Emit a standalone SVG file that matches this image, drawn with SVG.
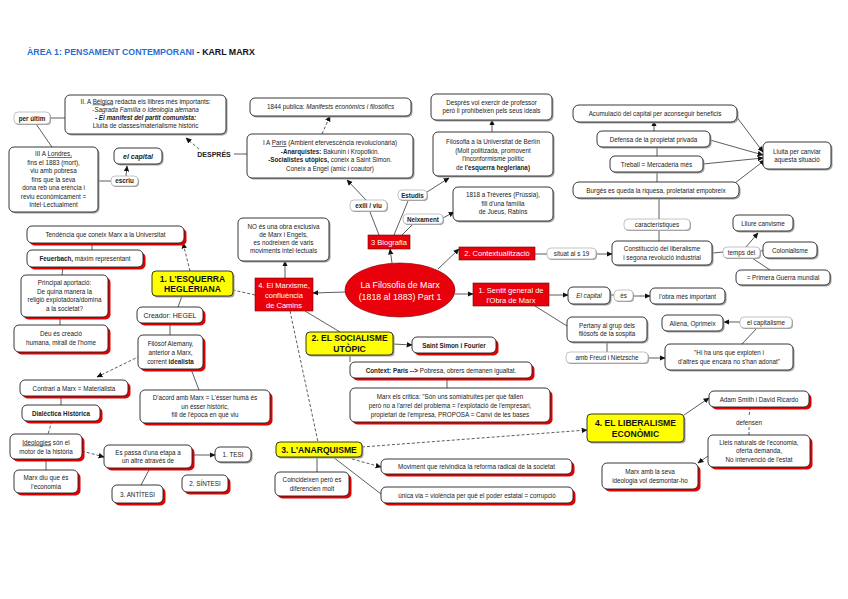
<svg xmlns="http://www.w3.org/2000/svg" width="848" height="599" viewBox="0 0 848 599">
<defs>
<marker id="a" viewBox="0 0 10 10" refX="9" refY="5" markerWidth="6" markerHeight="6" markerUnits="userSpaceOnUse" orient="auto"><path d="M0,0.5 L10,5 L0,9.5 z" fill="#111"/></marker>
</defs>
<style>
text{font-family:"Liberation Sans",Arial,sans-serif;font-size:6.3px;fill:#222;text-anchor:middle}
.b{fill:#fff;stroke:#222;stroke-width:0.9}
.p{fill:#fff;stroke:#aaa;stroke-width:0.7}
.sg{fill:#a0a0a0}
.sr{fill:#e30000}
.y{fill:#ffff00;stroke:#222;stroke-width:0.9}
.r{fill:#e8000b;stroke:#700;stroke-width:0.6}
.w{fill:#fff;font-size:7.5px}
.yt{font-size:8.6px;font-weight:bold;fill:#111}
.bo{font-weight:bold}
.it{font-style:italic}
.u{text-decoration:underline}
.c{stroke:#333;stroke-width:0.8;fill:none}
.d{stroke-dasharray:3 2}
.ar{marker-end:url(#a)}
</style>
<rect width="848" height="599" fill="#fff"/>
<g id="title">
<text x="27" y="55" style="font-size:8.8px;font-weight:bold;text-anchor:start"><tspan style="fill:#1f6fd6">ÀREA 1: PENSAMENT CONTEMPORANI</tspan><tspan style="fill:#111"> - KARL MARX</tspan></text>
</g>

<g id="connectors">
<path class="c" d="M50,118 L65,118"/>
<path class="c" d="M36,124 L52,147"/>
<path class="c" d="M98,181 L111,181"/>
<path class="c ar" d="M126,176 L127,166"/>
<path class="c d ar" d="M199,149 L186,138"/>
<path class="c" d="M234,154 L247,154"/>
<path class="c d ar" d="M322,134 L330,116"/>
<path class="c ar" d="M366,200 L347,180"/>
<path class="c" d="M379,235 L370,212"/>
<path class="c" d="M394,235 L408,201"/>
<path class="c" d="M402,235 L412,225"/>
<path class="c ar" d="M427,192 L449,178"/>
<path class="c ar" d="M443,218 L454,212"/>
<path class="c ar" d="M492,132 L492,120"/>
<path class="c ar" d="M392,263 L390,249"/>
<path class="c ar" d="M438,269 L459,249"/>
<path class="c ar" d="M455,294 L473,294"/>
<path class="c ar" d="M346,292 L313,293"/>
<path class="c" d="M535,254 L547,254"/>
<path class="c ar" d="M596,254 L612,254"/>
<path class="c" d="M659,241 L659,230"/>
<path class="c" d="M659,219 L659,199"/>
<path class="c" d="M657,182 L657,172"/>
<path class="c" d="M657,156 L657,148"/>
<path class="c ar" d="M654,131 L654,121"/>
<path class="c ar" d="M736,116 L763,152"/>
<path class="c ar" d="M710,140 L763,155"/>
<path class="c ar" d="M703,164 L763,158"/>
<path class="c ar" d="M735,183 L765,160"/>
<path class="c" d="M713,253 L723,252"/>
<path class="c ar" d="M746,247 L758,233"/>
<path class="c" d="M760,252 L763,250"/>
<path class="c" d="M752,258 L770,270"/>
<path class="c ar" d="M549,295 L568,295"/>
<path class="c" d="M610,295 L614,295"/>
<path class="c ar" d="M633,296 L650,296"/>
<path class="c" d="M535,306 L567,326"/>
<path class="c" d="M607,343 L607,352"/>
<path class="c ar" d="M648,358 L665,358"/>
<path class="c ar" d="M740,322 L724,322"/>
<path class="c" d="M757,328 L742,344"/>
<path class="c ar" d="M285,278 L285,261"/>
<path class="c d" d="M255,295 L233,290"/>
<path class="c d ar" d="M190,271 L183,243"/>
<path class="c" d="M182,296 L178,307"/>
<path class="c" d="M170,323 L170,335"/>
<path class="c" d="M92,243 L92,250"/>
<path class="c" d="M63,267 L62,275"/>
<path class="c" d="M60,317 L60,325"/>
<path class="c d ar" d="M140,356 L97,377"/>
<path class="c" d="M191,369 L199,390"/>
<path class="c" d="M61,396 L61,405"/>
<path class="c d" d="M52,421 L48,434"/>
<path class="c" d="M46,459 L46,470"/>
<path class="c d ar" d="M82,451 L104,457"/>
<path class="c ar" d="M192,455 L215,455"/>
<path class="c" d="M150,468 L141,485"/>
<path class="c" d="M305,311 L340,332"/>
<path class="c d" d="M290,311 L318,442"/>
<path class="c ar" d="M393,344 L412,345"/>
<path class="c" d="M350,355 L350,362"/>
<path class="c" d="M447,378 L447,388"/>
<path class="c d ar" d="M362,447 L587,430"/>
<path class="c d ar" d="M352,459 L381,467"/>
<path class="c" d="M333,457 L381,494"/>
<path class="c" d="M317,457 L317,472"/>
<path class="c ar" d="M684,415 L709,398"/>
<path class="c d" d="M750,407 L749,417"/>
<path class="c d" d="M749,427 L749,435"/>
<path class="c ar" d="M708,456 L698,463"/>
</g>

<g id="n-belgica"><rect class="sg" x="66.5" y="96.5" width="161" height="39" rx="5"/><rect class="b" x="65" y="95" width="161" height="39" rx="5"/>
<text x="145.5" y="103.5">II. A <tspan class="u">Bèlgica</tspan> redacta els llibres més importants:</text>
<text x="145.5" y="111.5" class="it">-Sagrada Família o Ideologia alemana</text>
<text x="145.5" y="119.5" class="it bo">- El manifest del partit comunista:</text>
<text x="145.5" y="127.5">Lluita de classes/materialisme històric</text></g>
<g id="n-perultim"><rect class="sg" x="15" y="113" width="36" height="12" rx="4"/><rect class="p" x="14" y="112" width="36" height="12" rx="4"/><text x="32" y="120.5" class="bo">per últim</text></g>
<g id="n-londres"><rect class="sg" x="10.5" y="148.5" width="89" height="65" rx="5"/><rect class="b" x="9" y="147" width="89" height="65" rx="5"/>
<text x="53.5" y="156"><tspan>III A </tspan><tspan class="u">Londres,</tspan></text>
<text x="53.5" y="164.5">fins el 1883 (mort),</text>
<text x="53.5" y="173">viu amb pobresa</text>
<text x="53.5" y="181.5">fins que la seva</text>
<text x="53.5" y="190">dona reb una erència i</text>
<text x="53.5" y="198.5">reviu econòmicament =</text>
<text x="53.5" y="207">Intel·Lectualment</text></g>
<g id="n-elcapital1"><rect class="sg" x="115.5" y="149.5" width="48" height="16" rx="5"/><rect class="b" x="114" y="148" width="48" height="16" rx="5"/><text x="138" y="158.5" class="bo it" style="font-size:7px">el capital</text></g>
<g id="n-escriu"><rect class="sg" x="112" y="177" width="27" height="10" rx="4"/><rect class="p" x="111" y="176" width="27" height="10" rx="4"/><text x="124.5" y="183.3" class="bo">escriu</text></g>
<g id="n-despres"><text x="214" y="156.5" class="bo" style="font-size:7px">DESPRÉS</text></g>
<g id="n-1844"><rect class="sg" x="251.5" y="99.5" width="161" height="18" rx="5"/><rect class="b" x="250" y="98" width="161" height="18" rx="5"/><text x="330.5" y="109.3">1844 publica: <tspan class="it">Manifests econòmics i filosòfics</tspan></text></g>
<g id="n-paris"><rect class="sg" x="248.5" y="135.5" width="166" height="44" rx="5"/><rect class="b" x="247" y="134" width="166" height="44" rx="5"/>
<text x="330" y="145">I A <tspan class="u">París</tspan> (Ambient efervescència revolucionària)</text>
<text x="330" y="153.5"><tspan class="bo">-Anarquistes:</tspan> Bakunin i Kropotkin.</text>
<text x="330" y="162"><tspan class="bo">-Socialistes utòpics,</tspan> coneix a Saint Simon.</text>
<text x="330" y="170.5">Coneix a Engel (amic i coautor)</text></g>
<g id="n-exili"><rect class="sg" x="351" y="201" width="37" height="11" rx="4"/><rect class="p" x="350" y="200" width="37" height="11" rx="4"/><text x="368.5" y="208" class="bo">exili / viu</text></g>
<g id="n-estudis"><rect class="sg" x="399" y="191" width="29" height="10" rx="4"/><rect class="p" x="398" y="190" width="29" height="10" rx="4"/><text x="412.5" y="197.5" class="bo">Estudis</text></g>
<g id="n-neixament"><rect class="sg" x="404" y="215" width="40" height="10" rx="4"/><rect class="p" x="403" y="214" width="40" height="10" rx="4"/><text x="423" y="221.5" class="bo">Neixament</text></g>
<g id="n-professor"><rect class="sg" x="432.5" y="95.5" width="121" height="26" rx="5"/><rect class="b" x="431" y="94" width="121" height="26" rx="5"/>
<text x="491.5" y="104.5">Després vol exercir de professor</text><text x="491.5" y="113">però li prohibeixen pels seus ideals</text></g>
<g id="n-berlin"><rect class="sg" x="434.5" y="133.5" width="120" height="44" rx="5"/><rect class="b" x="433" y="132" width="120" height="44" rx="5"/>
<text x="493" y="144">Filosofia a la Universitat de Berlín</text>
<text x="493" y="152.5">(Molt politizada, promovent</text>
<text x="493" y="161">l'inconformisme polític</text>
<text x="493" y="169.5">de <tspan class="bo">l'esquerra hegleriana)</tspan></text></g>
<g id="n-1818"><rect class="sg" x="454.5" y="188.5" width="100" height="34" rx="5"/><rect class="b" x="453" y="187" width="100" height="34" rx="5"/>
<text x="503" y="197">1818 a Trèveres (Prússia),</text><text x="503" y="205.5">fill d'una família</text><text x="503" y="214">de Jueus, Rabins</text></g>

<g id="n-acumulacio"><rect class="sg" x="574.5" y="106.5" width="164" height="17" rx="6"/><rect class="b" x="573" y="105" width="164" height="17" rx="6"/><text x="655" y="116">Acumulació del capital per aconseguir beneficis</text></g>
<g id="n-defensa"><rect class="sg" x="598.5" y="132.5" width="113" height="16" rx="5"/><rect class="b" x="597" y="131" width="113" height="16" rx="5"/><text x="653.5" y="141.5">Defensa de la propietat privada</text></g>
<g id="n-treball"><rect class="sg" x="611.5" y="157.5" width="93" height="16" rx="5"/><rect class="b" x="610" y="156" width="93" height="16" rx="5"/><text x="656.5" y="166.5">Treball = Mercaderia més</text></g>
<g id="n-burges"><rect class="sg" x="574.5" y="183.5" width="166" height="16" rx="6"/><rect class="b" x="573" y="182" width="166" height="16" rx="6"/><text x="656" y="192.5">Burgès es queda la riquesa, proletariat empobreix</text></g>
<g id="n-lluita"><rect class="sg" x="764.5" y="143.5" width="68" height="27" rx="5"/><rect class="b" x="763" y="142" width="68" height="27" rx="5"/><text x="797" y="153.5">Lluita per canviar</text><text x="797" y="162">aquesta situació</text></g>
<g id="n-caracteristiques"><rect class="sg" x="625" y="220" width="66" height="11" rx="4"/><rect class="p" x="624" y="219" width="66" height="11" rx="4"/><text x="657" y="227">característiques</text></g>
<g id="n-constitucio"><rect class="sg" x="613.5" y="242.5" width="100" height="24" rx="5"/><rect class="b" x="612" y="241" width="100" height="24" rx="5"/><text x="662" y="251">Constitucció del liberalisme</text><text x="662" y="259.5">i segona revolució industrial</text></g>
<g id="n-tempsdel"><rect class="sg" x="724" y="248" width="37" height="11" rx="4"/><rect class="p" x="723" y="247" width="37" height="11" rx="4"/><text x="741.5" y="254.7">temps del</text></g>
<g id="n-lliure"><rect class="sg" x="734.5" y="216.5" width="60" height="16" rx="5"/><rect class="b" x="733" y="215" width="60" height="16" rx="5"/><text x="763" y="225.5">Lliure canvisme</text></g>
<g id="n-colonialisme"><rect class="sg" x="764.5" y="243.5" width="54" height="16" rx="5"/><rect class="b" x="763" y="242" width="54" height="16" rx="5"/><text x="790" y="252.5">Colonialisme</text></g>
<g id="n-guerra"><rect class="sg" x="737.5" y="271.5" width="94" height="15" rx="5"/><rect class="b" x="736" y="270" width="94" height="15" rx="5"/><text x="783" y="280">= Primera Guerra mundial</text></g>
<g id="n-situat"><rect class="sg" x="548" y="249" width="49" height="11" rx="4"/><rect class="p" x="547" y="248" width="49" height="11" rx="4"/><text x="571.5" y="255.8">situat al s 19</text></g>
<g id="n-elcapital2"><rect class="sg" x="569.5" y="288.5" width="42" height="17" rx="5"/><rect class="b" x="568" y="287" width="42" height="17" rx="5"/><text x="589" y="297.5" class="it">El capital</text></g>
<g id="n-es"><rect class="sg" x="615" y="291" width="19" height="11" rx="4"/><rect class="p" x="614" y="290" width="19" height="11" rx="4"/><text x="623.5" y="298">és</text></g>
<g id="n-obra"><rect class="sg" x="651.5" y="289.5" width="75" height="16" rx="5"/><rect class="b" x="650" y="288" width="75" height="16" rx="5"/><text x="687.5" y="298.5">l'obra més important</text></g>
<g id="n-pertany"><rect class="sg" x="568.5" y="318.5" width="80" height="25" rx="5"/><rect class="b" x="567" y="317" width="80" height="25" rx="5"/><text x="607" y="327.5">Pertany al grup dels</text><text x="607" y="336">filòsofs de la sospita</text></g>
<g id="n-freud"><rect class="sg" x="567" y="353" width="82" height="11" rx="4"/><rect class="p" x="566" y="352" width="82" height="11" rx="4"/><text x="607" y="360">amb Freud i Nietzsche</text></g>
<g id="n-aliena"><rect class="sg" x="663.5" y="316.5" width="61" height="16" rx="5"/><rect class="b" x="662" y="315" width="61" height="16" rx="5"/><text x="692.5" y="325.5">Aliena, Oprimeix</text></g>
<g id="n-capitalisme"><rect class="sg" x="741" y="318" width="52" height="11" rx="4"/><rect class="p" x="740" y="317" width="52" height="11" rx="4"/><text x="766" y="325">el capitalisme</text></g>
<g id="n-hihauns"><rect class="sg" x="666.5" y="345.5" width="128" height="26" rx="5"/><rect class="b" x="665" y="344" width="128" height="26" rx="5"/><text x="729" y="355">"Hi ha uns que exploten i</text><text x="729" y="364">d'altres que encara no s'han adonat"</text></g>

<g id="n-centre"><ellipse cx="400" cy="290" rx="55" ry="27" fill="#e8000b" stroke="#700" stroke-width="0.6"/><text x="400" y="288" class="w" style="font-size:8.8px">La Filosofia de Marx</text><text x="400" y="300" class="w" style="font-size:8.8px">(1818 al 1883) Part 1</text></g>
<g id="n-biografia"><rect class="r" x="368" y="235" width="42" height="14"/><text x="389" y="244.5" class="w">3 Biografia</text></g>
<g id="n-context"><rect class="r" x="459" y="247" width="76" height="13"/><text x="497" y="256.3" class="w">2. Contextualització</text></g>
<g id="n-sentit"><rect class="r" x="473" y="283" width="76" height="23"/><text x="511" y="292.5" class="w">1. Sentit general de</text><text x="511" y="302.5" class="w">l'Obra de Marx</text></g>
<g id="n-marxisme"><rect class="r" x="255" y="278" width="58" height="33"/><text x="284" y="288" class="w">4. El Marxisme,</text><text x="284" y="298" class="w">confluència</text><text x="284" y="308" class="w">de Camins</text></g>
<g id="n-noes"><rect class="sg" x="239.5" y="219.5" width="91" height="43" rx="5"/><rect class="b" x="238" y="218" width="91" height="43" rx="5"/>
<text x="283.5" y="228.5">NO és una obra exclusiva</text><text x="283.5" y="236.5">de Marx i Engels,</text><text x="283.5" y="244.5">es nodreixen de varis</text><text x="283.5" y="252.5">moviments intel·lectuals</text></g>

<g id="n-esquerra"><rect class="sg" x="153.5" y="272.5" width="81" height="25" rx="4"/><rect class="y" x="152" y="271" width="81" height="25" rx="4"/><text x="192.5" y="281.5" class="yt">1. L'ESQUERRA</text><text x="192.5" y="292" class="yt">HEGLERIANA</text></g>
<g id="n-socialisme"><rect class="sg" x="307.5" y="333.5" width="87" height="23" rx="4"/><rect class="y" x="306" y="332" width="87" height="23" rx="4"/><text x="349.5" y="341" class="yt">2. EL SOCIALISME</text><text x="349.5" y="351.5" class="yt">UTÒPIC</text></g>
<g id="n-anarquisme"><rect class="sg" x="277.5" y="443.5" width="86" height="15" rx="4"/><rect class="y" x="276" y="442" width="86" height="15" rx="4"/><text x="319" y="452.8" class="yt">3. L'ANARQUISME</text></g>
<g id="n-liberalisme"><rect class="sg" x="588.5" y="415.5" width="97" height="28" rx="4"/><rect class="y" x="587" y="414" width="97" height="28" rx="4"/><text x="635.5" y="426" class="yt">4. EL LIBERALISME</text><text x="635.5" y="436.5" class="yt">ECONÒMIC</text></g>

<g id="n-tendencia"><rect class="sr" x="29.5" y="228.5" width="157" height="17" rx="5"/><rect class="b" x="27" y="226" width="157" height="17" rx="5"/><text x="105.5" y="236.8">Tendència que coneix Marx a la Universitat</text></g>
<g id="n-feuerbach"><rect class="sr" x="29.5" y="252.5" width="116" height="17" rx="5"/><rect class="b" x="27" y="250" width="116" height="17" rx="5"/><text x="85" y="260.8"><tspan class="bo">Feuerbach,</tspan> màxim representant</text></g>
<g id="n-principal"><rect class="sr" x="23.5" y="277.5" width="87" height="42" rx="5"/><rect class="b" x="21" y="275" width="87" height="42" rx="5"/>
<text x="64.5" y="285">Principal aportació:</text><text x="64.5" y="293.5">De quina manera la</text><text x="64.5" y="302">religió explotadora/domina</text><text x="64.5" y="310.5">a la societat?</text></g>
<g id="n-deu"><rect class="sr" x="16.5" y="327.5" width="94" height="27" rx="5"/><rect class="b" x="14" y="325" width="94" height="27" rx="5"/><text x="61" y="336">Déu és creació</text><text x="61" y="345">humana, mirall de l'home</text></g>
<g id="n-hegel"><rect class="sr" x="139.5" y="309.5" width="66" height="16" rx="5"/><rect class="b" x="137" y="307" width="66" height="16" rx="5"/><text x="170" y="317.8" style="font-size:7px">Creador: HEGEL</text></g>
<g id="n-filosof"><rect class="sr" x="140.5" y="337.5" width="65" height="34" rx="5"/><rect class="b" x="138" y="335" width="65" height="34" rx="5"/><text x="170.5" y="345.5">Filòsof Alemany,</text><text x="170.5" y="354.5">anterior a Marx,</text><text x="170.5" y="363.5">corrent <tspan class="bo">idealista</tspan></text></g>
<g id="n-dacord"><rect class="sr" x="142.5" y="392.5" width="130" height="33" rx="5"/><rect class="b" x="140" y="390" width="130" height="33" rx="5"/><text x="205" y="400">D'acord amb Marx = L'ésser humà és</text><text x="205" y="408.5">un ésser històric,</text><text x="205" y="417">fill de l'època en què viu</text></g>
<g id="n-contrari"><rect class="sr" x="22.5" y="382.5" width="108" height="16" rx="5"/><rect class="b" x="20" y="380" width="108" height="16" rx="5"/><text x="74" y="390.5">Contrari a Marx = Materialista</text></g>
<g id="n-dialectica"><rect class="sr" x="24.5" y="407.5" width="78" height="16" rx="5"/><rect class="b" x="22" y="405" width="78" height="16" rx="5"/><text x="61" y="415.5" class="bo">Dialèctica Històrica</text></g>
<g id="n-ideologies"><rect class="sr" x="12.5" y="436.5" width="72" height="25" rx="5"/><rect class="b" x="10" y="434" width="72" height="25" rx="5"/><text x="46" y="444.5"><tspan class="u">Ideologies</tspan> són el</text><text x="46" y="453.5">motor de la història</text></g>
<g id="n-economia"><rect class="sr" x="16.5" y="472.5" width="64" height="23" rx="5"/><rect class="b" x="14" y="470" width="64" height="23" rx="5"/><text x="46" y="479.5">Marx diu que és</text><text x="46" y="488.5">l'economia</text></g>
<g id="n-espassa"><rect class="sr" x="106.5" y="447.5" width="88" height="23" rx="5"/><rect class="b" x="104" y="445" width="88" height="23" rx="5"/><text x="148" y="454.5">Es passa d'una etapa a</text><text x="148" y="463">un altre através de</text></g>
<g id="n-tesi"><rect class="sg" x="216.5" y="448.5" width="36" height="15" rx="5"/><rect class="b" x="215" y="447" width="36" height="15" rx="5"/><text x="233" y="457">1. TESI</text></g>
<g id="n-sintesi"><rect class="sr" x="184.5" y="477.5" width="46" height="17" rx="5"/><rect class="b" x="182" y="475" width="46" height="17" rx="5"/><text x="205" y="486">2. SÍNTESI</text></g>
<g id="n-antitesi"><rect class="sr" x="114.5" y="487.5" width="51" height="18" rx="5"/><rect class="b" x="112" y="485" width="51" height="18" rx="5"/><text x="137.5" y="496.5">3. ANTÍTESI</text></g>
<g id="n-coincideixen"><rect class="sr" x="277.5" y="474.5" width="74" height="24" rx="5"/><rect class="b" x="275" y="472" width="74" height="24" rx="5"/><text x="312" y="481.5">Coincideixen però es</text><text x="312" y="490.5">diferencien molt</text></g>

<g id="n-saintsimon"><rect class="sr" x="414.5" y="339.5" width="84" height="16" rx="5"/><rect class="b" x="412" y="337" width="84" height="16" rx="5"/><text x="454" y="347.5" class="bo">Saint Simon i Fourier</text></g>
<g id="n-contextparis"><rect class="sr" x="352.5" y="364.5" width="182" height="16" rx="5"/><rect class="b" x="350" y="362" width="182" height="16" rx="5"/><text x="441" y="372.5"><tspan class="bo">Context: París --&gt;</tspan> Pobresa, obrers demanen igualtat.</text></g>
<g id="n-critica"><rect class="sr" x="352.5" y="390.5" width="200" height="34" rx="5"/><rect class="b" x="350" y="388" width="200" height="34" rx="5"/><text x="450" y="398.5">Marx els critica: "Són uns somiatruites per què fallen</text><text x="450" y="407.5">però no a l'arrel del problema = l'explotació de l'empresari,</text><text x="450" y="416.5">propietari de l'empresa, PROPOSA = Canvi de les bases</text></g>
<g id="n-moviment"><rect class="sr" x="383.5" y="461.5" width="191" height="15" rx="5"/><rect class="b" x="381" y="459" width="191" height="15" rx="5"/><text x="476.5" y="469">Moviment que reivindica la reforma radical de la societat</text></g>
<g id="n-unica"><rect class="sr" x="383.5" y="489.5" width="192" height="16" rx="5"/><rect class="b" x="381" y="487" width="192" height="16" rx="5"/><text x="477" y="497.5">única via = violència per què el poder estatal = corrupció</text></g>
<g id="n-adam"><rect class="sr" x="711.5" y="393.5" width="100" height="16" rx="5"/><rect class="b" x="709" y="391" width="100" height="16" rx="5"/><text x="759" y="401.5">Adam Smith i David Ricardo</text></g>
<g id="n-defensen"><text x="749" y="424.5">defensen</text></g>
<g id="n-lleis"><rect class="sr" x="710.5" y="437.5" width="102" height="32" rx="5"/><rect class="b" x="708" y="435" width="102" height="32" rx="5"/><text x="759" y="444.5">Lleis naturals de l'economia,</text><text x="759" y="453">oferta demanda,</text><text x="759" y="461.5">No intervenció de l'estat</text></g>
<g id="n-desmontar"><rect class="sr" x="604.5" y="465.5" width="96" height="26" rx="5"/><rect class="b" x="602" y="463" width="96" height="26" rx="5"/><text x="650" y="474">Marx amb la seva</text><text x="650" y="483">ideologia vol desmontar-ho</text></g>
</svg>
